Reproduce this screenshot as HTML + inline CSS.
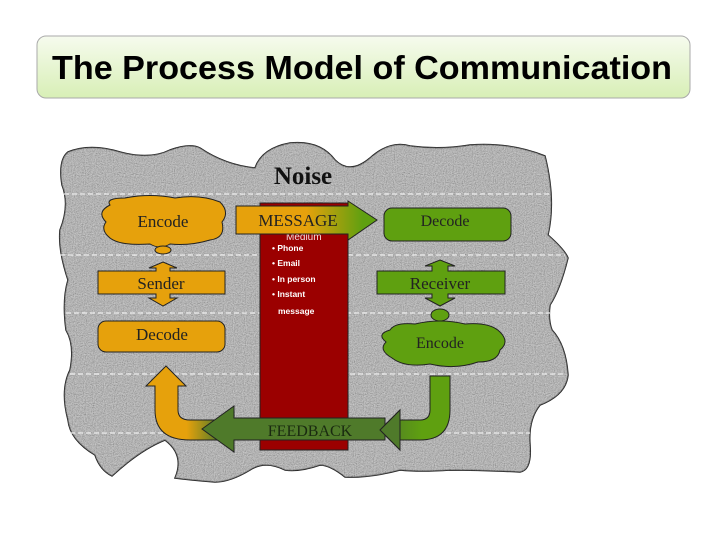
<!DOCTYPE html>
<html><head><meta charset="utf-8"><style>
body{margin:0;background:#fff;width:728px;height:546px;overflow:hidden;font-family:"Liberation Serif",serif}
</style></head><body>
<svg width="728" height="546" viewBox="0 0 728 546" xmlns="http://www.w3.org/2000/svg">
<defs>
<linearGradient id="tg" x1="0" y1="0" x2="0" y2="1"><stop offset="0" stop-color="#f6fbee"/><stop offset="1" stop-color="#d8efb6"/></linearGradient>
<filter id="nz" x="0" y="0" width="100%" height="100%">
<feTurbulence type="fractalNoise" baseFrequency="0.9" numOctaves="2" seed="3" result="t"/>
<feColorMatrix in="t" type="saturate" values="0" result="g"/>
<feComponentTransfer in="g" result="g2"><feFuncR type="linear" slope="1.6" intercept="-0.2"/><feFuncG type="linear" slope="1.6" intercept="-0.2"/><feFuncB type="linear" slope="1.6" intercept="-0.2"/><feFuncA type="linear" slope="0" intercept="1"/></feComponentTransfer>
<feComposite in="g2" in2="SourceGraphic" operator="in"/>
</filter>
<linearGradient id="og" x1="0" y1="0" x2="1" y2="0"><stop offset="0.55" stop-color="#e6a10c"/><stop offset="1" stop-color="#4f7a2a"/></linearGradient>
<linearGradient id="gg" x1="0" y1="0" x2="1" y2="0"><stop offset="0" stop-color="#4f7a2a"/><stop offset="0.6" stop-color="#5fa010"/></linearGradient>
<linearGradient id="mg" x1="0" y1="0" x2="1" y2="0"><stop offset="0.5" stop-color="#e6a10c"/><stop offset="0.9" stop-color="#5fa010"/></linearGradient>
</defs>
<rect x="37" y="36" width="653" height="62" rx="9" fill="url(#tg)" stroke="#aaa" stroke-width="1"/>
<text x="52" y="79" textLength="620" lengthAdjust="spacingAndGlyphs" font-family="Liberation Sans,sans-serif" font-weight="bold" font-size="33" fill="#000">The Process Model of Communication</text>

<path id="b" d="M68,152 Q90,143 120,152 Q150,160 170,150 Q190,143 200,148 Q225,165 255,168 Q262,148 290,143 Q320,140 335,160 Q350,175 370,158 Q390,140 410,146 Q440,150 470,145 Q510,142 545,156 Q556,200 548,235 Q565,250 568,258 Q560,290 550,305 Q548,320 552,330 Q566,345 568,375 Q566,395 540,405 Q528,420 530,445 Q532,470 520,472 Q480,470 450,470 Q420,472 400,470 Q370,478 345,477 Q330,465 320,465 Q300,472 285,470 Q265,460 250,470 Q230,482 215,482 Q190,480 175,478 Q185,455 165,440 Q140,450 112,476 Q100,470 95,455 Q70,440 68,420 Q60,390 70,370 Q75,345 66,330 Q62,300 68,280 Q58,250 60,230 Q70,205 62,185 Q58,160 68,152 Z" fill="#9a9a9a" stroke="#222" stroke-width="1.5"/>
<path d="M68,152 Q90,143 120,152 Q150,160 170,150 Q190,143 200,148 Q225,165 255,168 Q262,148 290,143 Q320,140 335,160 Q350,175 370,158 Q390,140 410,146 Q440,150 470,145 Q510,142 545,156 Q556,200 548,235 Q565,250 568,258 Q560,290 550,305 Q548,320 552,330 Q566,345 568,375 Q566,395 540,405 Q528,420 530,445 Q532,470 520,472 Q480,470 450,470 Q420,472 400,470 Q370,478 345,477 Q330,465 320,465 Q300,472 285,470 Q265,460 250,470 Q230,482 215,482 Q190,480 175,478 Q185,455 165,440 Q140,450 112,476 Q100,470 95,455 Q70,440 68,420 Q60,390 70,370 Q75,345 66,330 Q62,300 68,280 Q58,250 60,230 Q70,205 62,185 Q58,160 68,152 Z" fill="#9a9a9a" filter="url(#nz)" opacity="0.5"/>
<g stroke="#eee" stroke-width="1.2" stroke-dasharray="5,3">
<line x1="64" y1="194" x2="550" y2="194"/><line x1="60" y1="255" x2="565" y2="255"/><line x1="66" y1="313" x2="550" y2="313"/><line x1="70" y1="374" x2="566" y2="374"/><line x1="70" y1="433" x2="530" y2="433"/>
</g>
<text x="303" y="184" text-anchor="middle" font-weight="bold" font-size="25" fill="#111">Noise</text>

<rect x="260" y="203" width="88" height="247" fill="#9b0000" stroke="#222"/>
<text x="286" y="240" font-size="10" fill="#f5dede" font-family="Liberation Sans,sans-serif">Medium</text>
<g font-family="Liberation Sans,sans-serif" font-weight="bold" font-size="8.5" fill="#fff">
<text x="272" y="251">• Phone</text><text x="272" y="266">• Email</text><text x="272" y="282">• In person</text><text x="272" y="297">• Instant</text><text x="278" y="314">message</text></g>

<path d="M110,205 Q105,198 125,198 Q150,193 175,198 Q200,194 220,202 Q230,212 222,222 Q226,238 210,240 Q190,246 170,244 Q160,250 150,244 Q120,246 110,238 Q100,230 106,222 Q96,212 110,205 Z" fill="#e6a10c" stroke="#222"/>
<ellipse cx="163" cy="250" rx="8" ry="4" fill="#e6a10c" stroke="#222"/>
<text x="163" y="227" text-anchor="middle" font-size="17" fill="#222">Encode</text>
<path d="M163,262 L177,268 L170,268 L170,271 L225,271 L225,294 L170,294 L170,298 L177,298 L163,306 L149,298 L156,298 L156,294 L98,294 L98,271 L156,271 L156,268 L149,268 Z" fill="#e6a10c" stroke="#222"/>
<text x="161" y="289" text-anchor="middle" font-size="17" fill="#222">Sender</text>
<rect x="98" y="321" width="127" height="31" rx="8" fill="#e6a10c" stroke="#222"/>
<text x="162" y="340" text-anchor="middle" font-size="17" fill="#222">Decode</text>

<path d="M236,206 L348,206 L348,201 L377,220 L348,240 L348,234 L236,234 Z" fill="url(#mg)" stroke="#222"/>
<text x="298" y="226" text-anchor="middle" font-size="17" fill="#222">MESSAGE</text>

<rect x="384" y="208" width="127" height="33" rx="8" fill="#5fa010" stroke="#222"/>
<text x="445" y="226" text-anchor="middle" font-size="16" fill="#222">Decode</text>
<path d="M440,260 L455,266 L448,266 L448,271 L505,271 L505,294 L448,294 L448,298 L455,298 L440,306 L425,298 L432,298 L432,294 L377,294 L377,271 L432,271 L432,266 L425,266 Z" fill="#5fa010" stroke="#222"/>
<text x="440" y="289" text-anchor="middle" font-size="17" fill="#222">Receiver</text>
<ellipse cx="440" cy="315" rx="9" ry="6" fill="#5fa010" stroke="#222"/>
<path d="M390,330 Q395,322 415,324 Q440,318 465,324 Q490,322 500,332 Q510,342 500,350 Q498,362 478,362 Q455,370 430,364 Q405,368 392,358 Q378,350 386,342 Q376,334 390,330 Z" fill="#5fa010" stroke="#222"/>
<text x="440" y="348" text-anchor="middle" font-size="16" fill="#222">Encode</text>

<path d="M430,376 L450,376 L450,410 Q450,440 420,440 L400,440 L400,450 L380,430 L400,410 L400,420 L420,420 Q430,420 430,410 Z" fill="url(#gg)" stroke="#222"/>
<path d="M166,366 L186,386 L178,386 L178,410 Q178,420 190,420 L220,420 L220,440 L190,440 Q155,440 155,410 L155,386 L146,386 Z" fill="url(#og)" stroke="#222"/>
<path d="M202,429 L234,406 L234,418 L385,418 L385,440 L234,440 L234,452 Z" fill="#4f7a2a" stroke="#222"/>
<path d="M380,430 L400,410 L400,450 Z" fill="#4f7a2a" stroke="#222"/>
<text x="310" y="436" text-anchor="middle" font-size="16" fill="#1a2a10">FEEDBACK</text>
</svg>
</body></html>
